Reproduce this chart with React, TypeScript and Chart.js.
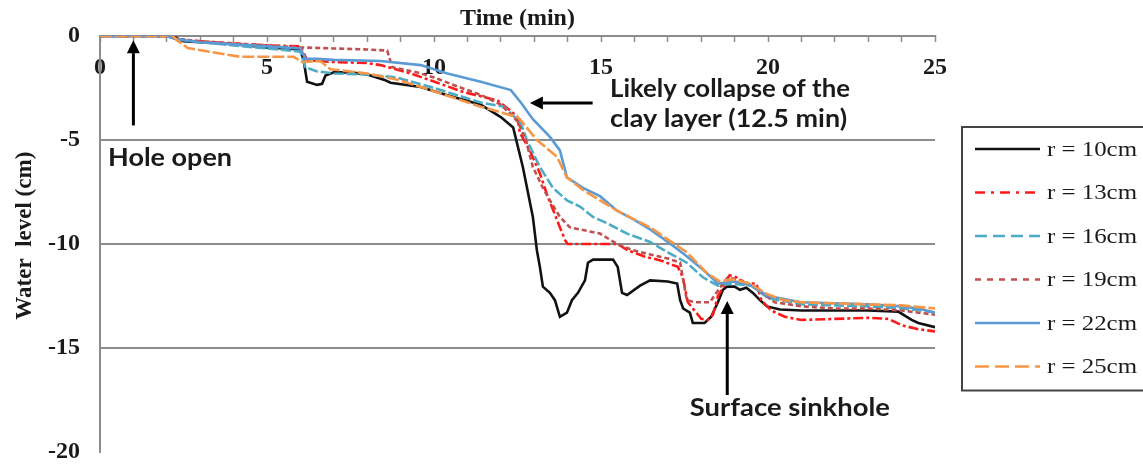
import React, { useEffect, useRef } from "react";
import { Chart, registerables } from "chart.js";
Chart.register(...registerables);

// ---------- data (time in min, water level in cm) ----------
const seriesLabels = ["r = 10cm", "r = 13cm", "r = 16cm", "r = 19cm", "r = 22cm", "r = 25cm"];

const r10: [number, number][] = [
  [0, 0], [2.0, 0], [2.1, 0.1], [2.3, -0.1], [2.5, -0.25], [3, -0.3], [4, -0.4], [5, -0.55], [6, -0.65], [6.1, -1.2],
  [6.2, -2.2], [6.5, -2.35], [6.65, -2.3], [6.75, -1.9], [7, -1.75], [7.5, -1.75], [8, -1.85], [8.5, -2.1], [8.7, -2.25],
  [9.6, -2.45], [10.4, -2.85], [11.4, -3.3], [12.0, -3.9], [12.37, -4.4], [12.66, -6.3], [12.96, -8.7], [13.08, -10.3],
  [13.17, -11.1], [13.26, -12.05], [13.47, -12.35], [13.62, -12.7], [13.77, -13.5], [13.98, -13.3], [14.13, -12.7],
  [14.31, -12.35], [14.52, -11.75], [14.61, -10.9], [14.76, -10.75], [15.36, -10.75], [15.5, -11.1], [15.63, -12.35],
  [15.78, -12.45], [16.17, -12.0], [16.47, -11.75], [17.0, -11.8], [17.28, -11.9], [17.37, -12.7], [17.46, -13.1],
  [17.66, -13.3], [17.75, -13.8], [18.1, -13.8], [18.3, -13.5], [18.5, -12.8], [18.65, -12.2], [18.77, -12.05],
  [19.0, -12.05], [19.16, -12.2], [19.35, -12.1], [19.55, -12.35], [19.76, -12.7], [19.97, -13.0], [20.36, -13.15],
  [21, -13.2], [22, -13.2], [23, -13.2], [23.9, -13.25], [24.3, -13.65], [24.5, -13.8], [25, -14.0],
];

const r13: [number, number][] = [
  [0, 0], [2, 0], [2.3, -0.15], [3, -0.25], [3.8, -0.35], [5, -0.45], [6, -0.5], [6.2, -1.15], [6.5, -1.2], [7, -1.25],
  [8, -1.3], [8.4, -1.4], [9.3, -1.8], [10.1, -2.25], [10.9, -2.7], [11.9, -3.1], [12.3, -3.6], [12.5, -3.9],
  [12.57, -4.65], [12.87, -5.5], [13.17, -6.6], [13.4, -7.7], [13.6, -8.5], [13.77, -9.2], [13.92, -9.8], [14.0, -10.0],
  [15.5, -10.0], [15.8, -10.3], [16.3, -10.6], [16.8, -10.8], [17.3, -11.1], [17.45, -11.6], [17.6, -12.8],
  [17.8, -13.2], [18.0, -13.6], [18.2, -13.65], [18.35, -13.4], [18.5, -12.5], [18.65, -12.1], [18.85, -11.5],
  [19.05, -11.6], [19.35, -11.9], [19.65, -11.9], [19.8, -12.7], [20.1, -13.2], [20.5, -13.5], [21, -13.65],
  [22, -13.6], [23, -13.55], [23.6, -13.6], [24, -13.9], [24.5, -14.1], [25, -14.2],
];

const r16: [number, number][] = [
  [0, 0], [2, 0], [2.3, -0.15], [3, -0.3], [4, -0.45], [5, -0.6], [6, -0.75], [6.15, -1.5], [6.5, -1.7], [7, -1.8],
  [8, -1.85], [8.9, -2.0], [9.9, -2.45], [11.4, -3.2], [12.1, -3.4], [12.6, -4.2], [12.78, -5.0], [13.17, -6.3],
  [13.56, -7.3], [13.98, -7.9], [14.37, -8.2], [14.76, -8.7], [15.18, -9.0], [15.78, -9.5], [16.47, -9.9],
  [17.0, -10.4], [17.57, -10.9], [18.05, -11.6], [18.5, -12.0], [18.9, -11.9], [19.5, -12.0], [20, -12.6],
  [21, -12.9], [22, -12.95], [23, -13.0], [24, -13.1], [24.6, -13.2], [25, -13.3],
];

const r19: [number, number][] = [
  [0, 0], [2, 0], [2.3, -0.15], [3, -0.25], [4, -0.35], [5, -0.45], [6, -0.55], [7, -0.6], [8, -0.65], [8.6, -0.7],
  [8.75, -1.5], [9.5, -1.75], [10, -2.0], [10.5, -2.3], [11, -2.6], [11.5, -2.9], [12, -3.3], [12.5, -4.1],
  [12.75, -5.0], [12.96, -6.3], [13.26, -7.3], [13.47, -7.9], [13.77, -8.7], [14.07, -9.2], [14.37, -9.3],
  [14.97, -9.5], [15.48, -10.0], [15.96, -10.3], [16.47, -10.5], [17.0, -10.7], [17.37, -10.9], [17.57, -12.7],
  [17.8, -12.8], [18.26, -12.8], [18.56, -12.1], [18.8, -11.6], [19.3, -11.8], [19.7, -12.2], [20.2, -12.8],
  [21, -13.0], [22, -13.1], [23, -13.1], [24, -13.2], [25, -13.4],
];

const r22: [number, number][] = [
  [0, 0], [2, 0], [2.3, -0.15], [3, -0.3], [4, -0.4], [5, -0.5], [6, -0.6], [6.15, -1.1], [6.5, -1.1], [7, -1.15],
  [8.4, -1.2], [9.6, -1.4], [10.4, -1.8], [11.4, -2.2], [12.3, -2.6], [12.6, -3.2], [12.96, -4.0], [13.47, -4.85],
  [13.77, -5.5], [13.98, -6.8], [14.46, -7.3], [14.97, -7.7], [15.48, -8.4], [15.96, -8.8], [16.47, -9.3],
  [17.0, -9.9], [17.5, -10.5], [18.1, -11.3], [18.5, -11.9], [19.0, -11.8], [19.5, -12.0], [20, -12.5],
  [21, -12.8], [22, -12.85], [23, -12.9], [24, -13.0], [24.5, -13.1], [25, -13.3],
];

const r25: [number, number][] = [
  [0, 0], [2, 0], [2.1, 0.15], [2.3, -0.2], [2.63, -0.58], [4.2, -1.0], [5.8, -1.0], [6.05, -1.25], [6.6, -1.2],
  [6.9, -1.6], [8, -1.8], [8.9, -2.1], [9.9, -2.6], [11.4, -3.4], [12.5, -3.9], [12.57, -4.0], [13.08, -5.0],
  [13.68, -5.8], [13.98, -6.8], [14.46, -7.4], [14.97, -7.9], [15.48, -8.4], [16.47, -9.2], [17.57, -10.4],
  [18.17, -11.4], [18.56, -11.8], [18.95, -11.7], [19.46, -11.9], [19.97, -12.4], [20.45, -12.7], [21, -12.8],
  [22, -12.85], [23, -12.9], [24, -12.95], [25, -13.1],
];

const xTickLabels = [0, 5, 10, 15, 20, 25];
const yTickLabels = [0, -5, -10, -15, -20];

const xTitle = "Time (min)";
const yTitle = "Water  level (cm)";
const holeText = "Hole open";
const collapseText = ["Likely collapse of the", "clay layer (12.5 min)"];
const sinkholeText = "Surface sinkhole";

// ---------- styles ----------
const seriesData = [r10, r13, r16, r19, r22, r25];
const seriesColors = ["#111111", "#ff1a1a", "#4bacc6", "#c0504d", "#5b9bd5", "#f79646"];
const seriesDash: number[][] = [[], [10, 3, 3, 3], [10, 3], [5, 3], [], [12, 3]];
const legendDash: number[][] = [[], [10, 6, 3, 6], [12, 6], [6, 6], [], [14, 6]];
const serif = "'Liberation Serif', 'Times New Roman', serif";
const sans = "Lato, 'Open Sans', sans-serif";

function fitText(ctx: CanvasRenderingContext2D, text: string, x: number, y: number, font: string, width: number, color: string, baseline: CanvasTextBaseline = "alphabetic") {
  ctx.save();
  ctx.font = font;
  ctx.fillStyle = color;
  ctx.textAlign = "left";
  ctx.textBaseline = baseline;
  const w = ctx.measureText(text).width;
  ctx.translate(x, y);
  ctx.scale(width / w, 1);
  ctx.fillText(text, 0, 0);
  ctx.restore();
}

function arrow(ctx: CanvasRenderingContext2D, x1: number, y1: number, x2: number, y2: number) {
  const ang = Math.atan2(y2 - y1, x2 - x1);
  const hl = 13, hw = 6.5;
  const bx = x2 - hl * Math.cos(ang), by = y2 - hl * Math.sin(ang);
  ctx.save();
  ctx.strokeStyle = "#000";
  ctx.fillStyle = "#000";
  ctx.lineWidth = 3;
  ctx.beginPath();
  ctx.moveTo(x1, y1);
  ctx.lineTo(bx, by);
  ctx.stroke();
  ctx.beginPath();
  ctx.moveTo(x2, y2);
  ctx.lineTo(bx + hw * Math.sin(ang), by - hw * Math.cos(ang));
  ctx.lineTo(bx - hw * Math.sin(ang), by + hw * Math.cos(ang));
  ctx.closePath();
  ctx.fill();
  ctx.restore();
}

const annotationPlugin = {
  id: "annotations",
  afterDatasetsDraw(chart: any) {
    const ctx = chart.ctx as CanvasRenderingContext2D;
    const xs = chart.scales.x, ys = chart.scales.y;
    const X = (v: number) => xs.getPixelForValue(v);
    const Y = (v: number) => ys.getPixelForValue(v);
    const font = `bold 24px ${sans}`;
    // Hole open
    arrow(ctx, X(1.0), Y(-4.3), X(1.0), Y(-0.2));
    fitText(ctx, holeText, X(0.24), Y(-6.25), font, 124, "#1a1a1a");
    // collapse
    arrow(ctx, X(14.75), Y(-3.22), X(12.87), Y(-3.22));
    fitText(ctx, collapseText[0], X(15.27), Y(-2.93), font, 240, "#1a1a1a");
    fitText(ctx, collapseText[1], X(15.27), Y(-4.38), font, 237, "#1a1a1a");
    // sinkhole
    arrow(ctx, X(18.78), Y(-17.26), X(18.78), Y(-12.74));
    fitText(ctx, sinkholeText, X(17.66), Y(-18.27), font, 200, "#1a1a1a");
  },
  afterDraw(chart: any) {
    const ctx = chart.ctx as CanvasRenderingContext2D;
    const ys = chart.scales.y;
    // y-axis title
    ctx.save();
    ctx.translate(25, ys.getPixelForValue(-9.6));
    ctx.rotate(-Math.PI / 2);
    ctx.font = `bold 23px ${serif}`;
    ctx.fillStyle = "#1a1a1a";
    ctx.textAlign = "center";
    ctx.textBaseline = "middle";
    ctx.fillText(yTitle, 0, 0);
    ctx.restore();
    // legend
    const left = 962, top = 127, step = 43.5, first = 149;
    const bottom = first + step * (seriesLabels.length - 1) + 24;
    ctx.save();
    ctx.strokeStyle = "#444";
    ctx.lineWidth = 2;
    ctx.strokeRect(left, top, 1143 - left + 10, bottom - top);
    seriesLabels.forEach((lab, i) => {
      const y = first + i * step;
      ctx.save();
      ctx.strokeStyle = seriesColors[i];
      ctx.lineWidth = 2.5;
      ctx.setLineDash(legendDash[i]);
      ctx.beginPath();
      ctx.moveTo(975, y);
      ctx.lineTo(1040, y);
      ctx.stroke();
      ctx.restore();
      fitText(ctx, lab, 1047, y + 1, `21px ${serif}`, 90, "#1a1a1a", "middle");
    });
    ctx.restore();
  },
};

export default function App() {
  const ref = useRef<HTMLCanvasElement | null>(null);
  useEffect(() => {
    if (!ref.current) return;
    const chart = new Chart(ref.current, {
      type: "line",
      data: {
        datasets: seriesData.map((pts, i) => ({
          label: seriesLabels[i],
          data: pts.map(([x, y]) => ({ x, y })),
          borderColor: seriesColors[i],
          backgroundColor: seriesColors[i],
          borderWidth: 2.6,
          borderDash: seriesDash[i],
          pointRadius: 0,
          tension: 0,
          fill: false,
          order: seriesData.length - i,
        })),
      },
      options: {
        responsive: false,
        animation: false,
        layout: { padding: { left: 0, right: 208, top: 0, bottom: 16 } },
        plugins: { legend: { display: false }, tooltip: { enabled: false } },
        scales: {
          x: {
            type: "linear",
            position: "top",
            min: 0,
            max: 25,
            afterFit: (s: any) => { s.height = 36; s.paddingLeft = 0; s.paddingRight = 0; },
            ticks: {
              stepSize: 1,
              autoSkip: false,
              maxRotation: 0,
              minRotation: 0,
              mirror: true,
              padding: 17,
              color: "#1a1a1a",
              font: { family: serif, size: 24, weight: "bold" },
              callback: (v: any) => (xTickLabels.includes(Number(v)) ? String(v) : ""),
            },
            grid: {
              display: true,
              drawOnChartArea: false,
              drawTicks: true,
              tickLength: -6,
              tickColor: "#8c8c8c",
              tickWidth: 1.5,
            },
            border: { display: true, color: "#8c8c8c", width: 2 },
            title: {
              display: true,
              text: xTitle,
              color: "#1a1a1a",
              font: { family: serif, size: 24, weight: "bold" },
              padding: { top: 4, bottom: 0 },
            },
          },
          y: {
            type: "linear",
            min: -20,
            max: 0,
            afterFit: (s: any) => { s.width = 100; s.paddingTop = 0; s.paddingBottom = 0; },
            afterBuildTicks: (s: any) => { s.ticks = yTickLabels.map((v) => ({ value: v })); },
            ticks: {
              padding: 20,
              color: "#1a1a1a",
              font: { family: serif, size: 24, weight: "bold" },
            },
            grid: {
              drawTicks: false,
              lineWidth: 2,
              color: (c: any) => (c.tick && c.tick.value === -20 ? "rgba(0,0,0,0)" : "#8c8c8c"),
            },
            border: { display: true, color: "#8c8c8c", width: 2 },
            title: { display: false },
          },
        },
      },
      plugins: [annotationPlugin],
    } as any);
    return () => chart.destroy();
  }, []);
  return (
    <div style={{ position: "absolute", left: 0, top: 0, width: 1143, height: 468, background: "#fff" }}>
      <canvas ref={ref} width={1143} height={468} />
    </div>
  );
}
